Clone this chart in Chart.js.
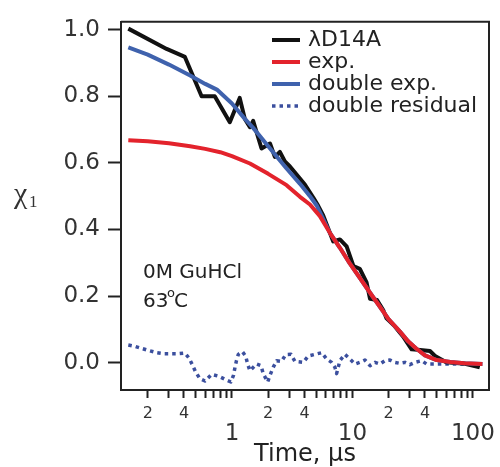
<!DOCTYPE html>
<html>
<head>
<meta charset="utf-8">
<script src="https://cdn.jsdelivr.net/npm/chart.js@4.4.0/dist/chart.umd.min.js"></script>
<style>
  html, body { margin: 0; padding: 0; background: #fff; }
  #wrap { width: 500px; height: 467px; }
</style>
</head>
<body>
<div id="wrap"><canvas id="decayChart" width="500" height="467"></canvas></div>
<script>
//-------------------- values (time in microseconds) --------------------
const dataTimes = [0.138, 0.287, 0.407, 0.56, 0.72, 0.96, 1.16, 1.28, 1.41, 1.50, 1.76, 2.07, 2.27, 2.50, 2.75, 3.03, 3.44, 4.03, 4.73, 5.20, 5.72, 6.93, 7.87, 8.95, 10.2, 11.5, 13.1, 14.0, 16.0, 18.0, 19.2, 22.5, 26.3, 31, 36.5, 44, 48.5, 60, 86, 114];
const dataValues = [1.003, 0.942, 0.918, 0.80, 0.80, 0.722, 0.795, 0.732, 0.707, 0.726, 0.643, 0.658, 0.618, 0.633, 0.604, 0.589, 0.565, 0.535, 0.496, 0.471, 0.442, 0.364, 0.37, 0.349, 0.29, 0.282, 0.241, 0.192, 0.188, 0.158, 0.133, 0.109, 0.079, 0.04, 0.038, 0.035, 0.02, 0.001, -0.003, -0.014];

const expTimes = [0.138, 0.2, 0.3, 0.45, 0.6, 0.8, 1.0, 1.41, 2.0, 2.84, 3.67, 4.44, 5.37, 6.5, 7.87, 9.5, 11.5, 14, 16.9, 20, 24.7, 29, 34, 40, 50, 65, 85, 120];
const expValues = [0.668, 0.665, 0.659, 0.650, 0.642, 0.632, 0.620, 0.598, 0.567, 0.533, 0.498, 0.475, 0.44, 0.39, 0.345, 0.298, 0.255, 0.21, 0.168, 0.13, 0.094, 0.064, 0.042, 0.022, 0.008, 0.002, -0.002, -0.004];

const dblTimes = [0.138, 0.2, 0.3, 0.45, 0.6, 0.75, 1.0, 1.28, 1.5, 2.0, 2.84, 3.67, 4.44, 5.05, 6.5, 7.87, 9.5, 11.5, 14, 16.9, 20, 24.7, 29, 34, 40, 50, 65, 85, 120];
const dblValues = [0.947, 0.925, 0.895, 0.862, 0.837, 0.82, 0.778, 0.732, 0.705, 0.650, 0.583, 0.537, 0.50, 0.472, 0.39, 0.345, 0.298, 0.255, 0.21, 0.168, 0.13, 0.094, 0.064, 0.042, 0.022, 0.008, 0.002, -0.002, -0.004];

const residTimes = [0.138, 0.157, 0.178, 0.202, 0.237, 0.269, 0.306, 0.358, 0.407, 0.440, 0.469, 0.500, 0.542, 0.597, 0.679, 0.780, 0.887, 0.98, 1.03, 1.06, 1.09, 1.13, 1.22, 1.30, 1.35, 1.41, 1.60, 1.74, 1.82, 1.98, 2.07, 2.20, 2.35, 2.58, 2.79, 3.09, 3.33, 3.91, 4.30, 4.89, 5.55, 6.11, 6.72, 7.16, 7.39, 7.87, 8.66, 9.53, 10.5, 11.5, 12.7, 14.0, 15.4, 16.9, 18.6, 20.5, 22.5, 24.8, 27.3, 30.0, 33.0, 37.5, 41.3, 46.6, 64.4, 85.9, 121];
const residValues = [0.053, 0.049, 0.043, 0.037, 0.030, 0.027, 0.027, 0.027, 0.029, 0.014, -0.006, -0.028, -0.048, -0.055, -0.035, -0.041, -0.051, -0.058, -0.038, -0.014, 0.006, 0.025, 0.033, 0.02, -0.004, -0.024, -0.004, -0.009, -0.033, -0.058, -0.038, -0.014, 0.006, 0.004, 0.024, 0.025, 0.004, 0.001, 0.02, 0.025, 0.03, 0.011, 0.001, -0.014, -0.033, 0.006, 0.025, 0.011, -0.004, 0.001, 0.008, -0.009, 0.001, -0.004, 0.006, 0.008, 0.001, -0.002, 0.001, -0.006, 0.001, 0.006, -0.004, -0.004, -0.004, -0.004, -0.004];

// axis ticks
const xTickValues = [0.2, 0.3, 0.4, 0.5, 0.6, 0.7, 0.8, 0.9, 1, 2, 3, 4, 5, 6, 7, 8, 9, 10, 20, 30, 40, 50, 60, 70, 80, 90, 100];
const xMajorTicks = [1, 10, 100];
const xMinorLabelled = [0.2, 0.4, 2, 4, 20, 40];
const yTickValues = [0, 0.2, 0.4, 0.6, 0.8, 1.0];

const FONT = "'DejaVu Sans', sans-serif";

function toPoints(times, values) {
  return times.map((t, i) => ({ x: t, y: values[i] }));
}

// frame, y title, annotation and legend inside the plot
const extrasPlugin = {
  id: 'extras',
  afterDraw(chart) {
    const ctx = chart.ctx;
    const area = chart.chartArea;
    ctx.save();
    // top and right sides of the frame
    ctx.strokeStyle = '#222';
    ctx.lineWidth = 2;
    ctx.beginPath();
    ctx.moveTo(area.left, area.top);
    ctx.lineTo(area.right, area.top);
    ctx.lineTo(area.right, area.bottom);
    ctx.stroke();

    // y title, written horizontally
    ctx.fillStyle = '#333';
    ctx.textBaseline = 'alphabetic';
    ctx.textAlign = 'left';
    ctx.font = "30px 'Liberation Serif', serif";
    ctx.fillText('χ', 14, 203);
    ctx.font = "17px 'Liberation Serif', serif";
    ctx.fillText('1', 29, 207);

    // conditions
    ctx.fillStyle = '#222';
    ctx.textBaseline = 'middle';
    ctx.font = '20px ' + FONT;
    ctx.fillText('0M GuHCl', 143, 273);
    ctx.fillText('63', 143, 302);
    ctx.font = '13px ' + FONT;
    ctx.fillText('o', 167, 294);
    ctx.font = '20px ' + FONT;
    ctx.fillText('C', 174, 302);

    // legend
    const rowY = [40, 62, 84, 106];
    ctx.font = '22px ' + FONT;
    chart.data.datasets.forEach((ds, i) => {
      const y = rowY[i];
      ctx.strokeStyle = ds.borderColor;
      ctx.lineWidth = ds.borderWidth;
      ctx.setLineDash(ds.borderDash || []);
      ctx.beginPath();
      ctx.moveTo(272, y);
      ctx.lineTo(300, y);
      ctx.stroke();
      ctx.setLineDash([]);
      ctx.fillStyle = '#222';
      ctx.fillText(ds.label, 308, y);
    });
    ctx.restore();
  }
};

const ctx = document.getElementById('decayChart').getContext('2d');
new Chart(ctx, {
  type: 'line',
  data: {
    datasets: [
      {
        label: 'λD14A',
        data: toPoints(dataTimes, dataValues),
        borderColor: '#111111',
        borderWidth: 4,
        order: 2
      },
      {
        label: 'exp.',
        data: toPoints(expTimes, expValues),
        borderColor: '#e3232c',
        borderWidth: 4,
        order: 0
      },
      {
        label: 'double exp.',
        data: toPoints(dblTimes, dblValues),
        borderColor: '#3f62ad',
        borderWidth: 4,
        order: 1
      },
      {
        label: 'double residual',
        data: toPoints(residTimes, residValues),
        borderColor: '#3b4f9e',
        borderWidth: 3.5,
        borderDash: [3.5, 4],
        borderCapStyle: 'butt',
        order: 3
      }
    ]
  },
  options: {
    responsive: false,
    animation: false,
    devicePixelRatio: 1,
    layout: { padding: { top: 14, right: 11, left: 0, bottom: 0 } },
    elements: {
      point: { radius: 0 },
      line: { tension: 0, fill: false, borderJoinStyle: 'round' }
    },
    plugins: {
      legend: { display: false },
      tooltip: { enabled: false }
    },
    scales: {
      x: {
        type: 'logarithmic',
        position: 'bottom',
        min: 0.12,
        max: 136,
        afterBuildTicks: scale => {
          scale.ticks = xTickValues.map(v => ({ value: v, major: xMajorTicks.includes(v) }));
        },
        afterFit: scale => { scale.height = 77; },
        grid: {
          drawOnChartArea: false,
          drawTicks: true,
          tickLength: 8,
          tickWidth: 2,
          tickColor: '#222'
        },
        border: { display: true, color: '#222', width: 2 },
        ticks: {
          autoSkip: false,
          maxRotation: 0,
          padding: 3,
          color: '#333',
          font: c => xMajorTicks.includes(c.tick && c.tick.value)
            ? { family: FONT, size: 23, lineHeight: '22px' }
            : { family: FONT, size: 16, lineHeight: '26px' },
          callback: value => {
            if (xMajorTicks.includes(value)) return ['', String(value)];
            if (xMinorLabelled.includes(value)) {
              return String(Math.round(value / Math.pow(10, Math.floor(Math.log10(value) + 1e-9))));
            }
            return '';
          }
        },
        title: {
          display: true,
          text: 'Time, μs',
          color: '#222',
          padding: 0,
          font: { family: FONT, size: 24, lineHeight: 1.0 }
        }
      },
      y: {
        type: 'linear',
        min: -0.082,
        max: 1.0235,
        afterBuildTicks: scale => {
          scale.ticks = yTickValues.map(v => ({ value: v }));
        },
        afterFit: scale => { scale.width = 121; },
        grid: {
          drawOnChartArea: false,
          drawTicks: true,
          tickLength: 13,
          tickWidth: 2,
          tickColor: '#222'
        },
        border: { display: true, color: '#222', width: 2 },
        ticks: {
          padding: 8,
          color: '#333',
          font: { family: FONT, size: 23 },
          callback: value => value.toFixed(1)
        }
      }
    }
  },
  plugins: [extrasPlugin]
});
</script>
</body>
</html>
